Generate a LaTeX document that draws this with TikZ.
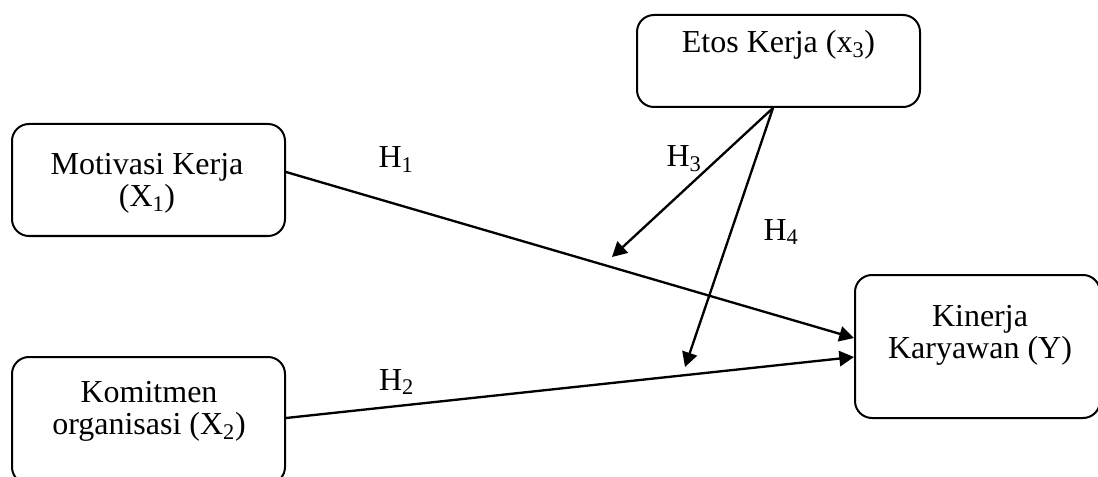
\documentclass[tikz,border=0pt]{standalone}
\usepackage{fontspec}
\setmainfont{Liberation Serif}
\usetikzlibrary{arrows.meta,calc}
\begin{document}
\begin{tikzpicture}[x=0.75pt,y=-0.75pt,
  box/.style={draw, line width=1.5pt, rounded corners=12.75pt, inner sep=0pt},
  txt/.style={font=\fontsize{24pt}{24pt}\selectfont, align=center, inner sep=0pt},
  conn/.style={line width=1.75pt, -{Triangle[length=11pt,width=11.5pt]}},
  hyp/.style={font=\fontsize{24pt}{24pt}\selectfont, inner sep=0pt, anchor=base}]
\useasboundingbox (0,0) rectangle (1098,477);
% boxes
\node[box, minimum width=204.75pt, minimum height=84pt] (mot) at (148.5,180) {};
\node[box, minimum width=204.75pt, minimum height=95.25pt] (kom) at (148.5,420.5) {};
\node[box, minimum width=212.25pt, minimum height=69pt] (etos) at (778.5,61) {};
\node[box, minimum width=183.75pt, minimum height=107.25pt] (kin) at (977.5,346.5) {};
% box texts
\node[txt] (motT) at (147,183.5) {Motivasi Kerja\\(X\textsubscript{1})};
\node[txt] (komT) at (149,411.5) {Komitmen\\organisasi (X\textsubscript{2})};
\node[txt] (etosT) at (778.5,44.5) {Etos Kerja (x\textsubscript{3})};
\node[txt] (kinT) at (980,335.5) {Kinerja\\Karyawan (Y)};
% connectors
\coordinate (t3) at (612,257);
\coordinate (t4) at (685,367);
\draw[conn] ($(mot.east)+(0,-8)$) -- ($(kin.west)+(0,-8.5)$);
\draw[conn] ($(kom.east)+(0,-2.5)$) -- ($(kin.west)+(0,10.5)$);
\draw[conn] ($(etos.south)+(-5.5,0)$) -- (t3);
\draw[conn] ($(etos.south)+(-5.5,0)$) -- (t4);
% hypothesis labels
\node[hyp] (h1) at (396,168) {H\textsubscript{1}};
\node[hyp] (h2) at (396.5,390) {H\textsubscript{2}};
\node[hyp] (h3) at (684,167) {H\textsubscript{3}};
\node[hyp] (h4) at (781,240) {H\textsubscript{4}};
\end{tikzpicture}
\end{document}
